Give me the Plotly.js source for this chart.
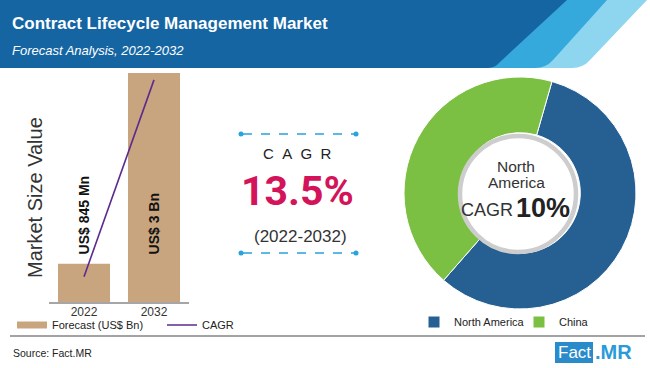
<!DOCTYPE html>
<html>
<head>
<meta charset="utf-8">
<script src="https://cdn.plot.ly/plotly-3.0.1.min.js"></script>
<style>html,body{margin:0;padding:0;background:#fff;}#chart{width:650px;height:368px;}</style>
</head>
<body>
<div id="chart"></div>
<script>
// ---- data ----
const years = ['2022', '2032'];
const barHeights = [0.5, 3.0];          // bar heights as drawn (illustrative)
const barLabels = ['US$ 845 Mn', 'US$ 3 Bn'];
const cagrLine = [0.33, 2.91];
const regions = ['North America', 'China'];
const regionShares = [57, 43];
const cagrText = '13.5%';
const cagrPeriod = '(2022-2032)';
const naCagr = '10%';

// ---- helpers (pixel -> paper) ----
const W = 650, H = 368;
const px = x => x / W;
const py = y => 1 - y / H;
const pathFrom = cmds => cmds.map(c => {
  if (c[0] === 'Z') return 'Z';
  const pts = [];
  for (let i = 1; i < c.length; i += 2) pts.push(px(c[i]).toFixed(5) + ',' + py(c[i + 1]).toFixed(5));
  return c[0] + pts.join(' ');
}).join(' ');

const SANS = 'Liberation Sans, Arial, sans-serif';
const ROBOTO = 'Roboto, Liberation Sans, Arial, sans-serif';
const TAN = '#c9a57f';
const PURPLE = '#5b2a8e';
const BLUE = '#265f92';
const GREEN = '#7bbf43';
const DOT = '#29a3dc';

const traces = [
  {
    type: 'bar', x: years, y: barHeights, marker: {color: TAN},
    showlegend: false, hoverinfo: 'none', xaxis: 'x', yaxis: 'y'
  },
  {
    type: 'scatter', mode: 'lines', x: [years[0]], y: [null], name: 'Forecast (US$ Bn)',
    line: {color: TAN, width: 7}, legend: 'legend', hoverinfo: 'none', xaxis: 'x', yaxis: 'y'
  },
  {
    type: 'scatter', mode: 'lines', x: years, y: cagrLine, name: 'CAGR',
    line: {color: PURPLE, width: 1.6}, legend: 'legend', hoverinfo: 'none', cliponaxis: false,
    xaxis: 'x', yaxis: 'y'
  },
  {
    type: 'pie', labels: regions, values: regionShares, sort: false, direction: 'clockwise',
    rotation: 16, hole: 0.52, textinfo: 'none', hoverinfo: 'none',
    marker: {colors: [BLUE, GREEN], line: {color: '#ffffff', width: 1}},
    domain: {x: [px(404), px(636)], y: [py(309), py(77)]},
    legend: 'legend2'
  }
];

const shapes = [
  // header stripes
  {type: 'path', xref: 'paper', yref: 'paper', line: {width: 0}, fillcolor: '#8ed5f0',
   path: pathFrom([['M', 0, 0], ['L', 647, 0], ['L', 590, 60], ['Q', 583, 68, 572, 68], ['L', 0, 68], ['Z']])},
  {type: 'path', xref: 'paper', yref: 'paper', line: {width: 0}, fillcolor: '#36a9dc',
   path: pathFrom([['M', 0, 0], ['L', 607, 0], ['L', 553, 60], ['Q', 546, 68, 535, 68], ['L', 0, 68], ['Z']])},
  {type: 'path', xref: 'paper', yref: 'paper', line: {width: 0}, fillcolor: '#1565a3',
   path: pathFrom([['M', 0, 0], ['L', 567, 0], ['L', 500, 62], ['Q', 495, 68, 488, 68], ['L', 0, 68], ['Z']])},
  // dashed lines around CAGR
  {type: 'line', xref: 'paper', yref: 'paper', x0: px(243), x1: px(354), y0: py(134), y1: py(134),
   line: {color: DOT, width: 1.3, dash: 'dash'}},
  {type: 'line', xref: 'paper', yref: 'paper', x0: px(243), x1: px(354), y0: py(253), y1: py(253),
   line: {color: DOT, width: 1.3, dash: 'dash'}},
  {type: 'circle', xref: 'paper', yref: 'paper', x0: px(238.5), x1: px(243.5), y0: py(131.5), y1: py(136.5), fillcolor: DOT, line: {width: 0}},
  {type: 'circle', xref: 'paper', yref: 'paper', x0: px(353.5), x1: px(358.5), y0: py(131.5), y1: py(136.5), fillcolor: DOT, line: {width: 0}},
  {type: 'circle', xref: 'paper', yref: 'paper', x0: px(238.5), x1: px(243.5), y0: py(250.5), y1: py(255.5), fillcolor: DOT, line: {width: 0}},
  {type: 'circle', xref: 'paper', yref: 'paper', x0: px(353.5), x1: px(358.5), y0: py(250.5), y1: py(255.5), fillcolor: DOT, line: {width: 0}},
  // inner ring of donut
  {type: 'circle', xref: 'paper', yref: 'paper', x0: px(518 - 58), x1: px(518 + 58), y0: py(194 + 58), y1: py(194 - 58),
   fillcolor: '#ffffff', line: {color: '#cdcdcd', width: 4.5}},
  // separator
  {type: 'line', xref: 'paper', yref: 'paper', x0: px(10), x1: px(645), y0: py(336), y1: py(336),
   line: {color: '#a3a3a3', width: 2}},
  // logo box
  {type: 'rect', xref: 'paper', yref: 'paper', x0: px(555), x1: px(593), y0: py(363), y1: py(342),
   fillcolor: '#2a8bcb', line: {width: 0}}
];

const ann = (x, y, text, font, extra) => Object.assign({
  xref: 'paper', yref: 'paper', x: px(x), y: py(y), text: text, showarrow: false,
  font: font, xanchor: 'center', yanchor: 'middle'
}, extra || {});

const annotations = [
  ann(10, 24, 'Contract Lifecycle Management Market', {family: SANS, size: 17, color: '#ffffff', weight: 'bold'}, {xanchor: 'left'}),
  ann(10, 50, 'Forecast Analysis, 2022-2032', {family: SANS, size: 13, color: '#ffffff', style: 'italic'}, {xanchor: 'left'}),
  ann(35, 198, 'Market Size Value', {family: SANS, size: 20, color: '#333333'}, {textangle: -90}),
  // bar labels (category axis: annotation x uses category index)
  {xref: 'x', yref: 'y', x: 0, y: 0.59, text: barLabels[0], showarrow: false, textangle: -90,
   xanchor: 'center', yanchor: 'bottom', font: {family: SANS, size: 14, color: '#111111', weight: 'bold'}},
  {xref: 'x', yref: 'y', x: 1, y: 0.59, text: barLabels[1], showarrow: false, textangle: -90,
   xanchor: 'center', yanchor: 'bottom', font: {family: SANS, size: 14, color: '#111111', weight: 'bold'}},
  // centre CAGR block
  ann(297, 153, 'C\u00a0\u00a0A\u00a0\u00a0G\u00a0\u00a0R', {family: SANS, size: 15, color: '#222222'}),
  ann(297, 191, cagrText, {family: ROBOTO, size: 41, color: '#d4145a', weight: 'bold'}),
  ann(300, 236, cagrPeriod, {family: SANS, size: 17, color: '#333333'}),
  // donut centre
  ann(516, 166, 'North', {family: SANS, size: 15.5, color: '#333333'}),
  ann(516, 182, 'America', {family: SANS, size: 15.5, color: '#333333'}),
  ann(515, 210, 'CAGR', {family: SANS, size: 18, color: '#333333'}, {xanchor: 'right'}),
  ann(514, 208, naCagr, {family: SANS, size: 27, color: '#222222', weight: 'bold'}, {xanchor: 'left'}),
  // footer
  ann(11, 353, 'Source: Fact.MR', {family: SANS, size: 10.5, color: '#222222'}, {xanchor: 'left'}),
  ann(574, 352, 'Fact', {family: SANS, size: 17, color: '#ffffff'}),
  ann(593, 352, '.MR', {family: SANS, size: 20, color: '#2a9ad8', weight: 'bold'}, {xanchor: 'left'})
];

const layout = {
  width: W, height: H,
  margin: {l: 0, r: 0, t: 0, b: 0, autoexpand: false},
  paper_bgcolor: '#ffffff', plot_bgcolor: 'rgba(0,0,0,0)',
  bargap: 0.257,
  xaxis: {
    type: 'category', domain: [px(49), px(189)], range: [-0.5, 1.5], fixedrange: true,
    showline: true, linecolor: '#a6a6a6', linewidth: 2, showgrid: false, zeroline: false,
    ticks: '', ticklabelstandoff: -2, tickfont: {family: SANS, size: 12, color: '#333333'}, anchor: 'y'
  },
  yaxis: {
    domain: [py(302), py(73)], range: [0, 3], visible: false, fixedrange: true
  },
  legend: {
    orientation: 'h', x: px(12), y: py(325), xanchor: 'left', yanchor: 'middle',
    font: {family: SANS, size: 11, color: '#222222'}, bgcolor: 'rgba(0,0,0,0)',
    entrywidth: 105, entrywidthmode: 'pixels'
  },
  legend2: {
    orientation: 'h', x: px(414), y: py(322), xanchor: 'left', yanchor: 'middle',
    font: {family: SANS, size: 11, color: '#222222'}, bgcolor: 'rgba(0,0,0,0)',
    entrywidth: 60, entrywidthmode: 'pixels'
  },
  shapes: shapes,
  annotations: annotations,
  showlegend: true
};

Plotly.newPlot('chart', traces, layout, {staticPlot: true, displayModeBar: false});
</script>
</body>
</html>
